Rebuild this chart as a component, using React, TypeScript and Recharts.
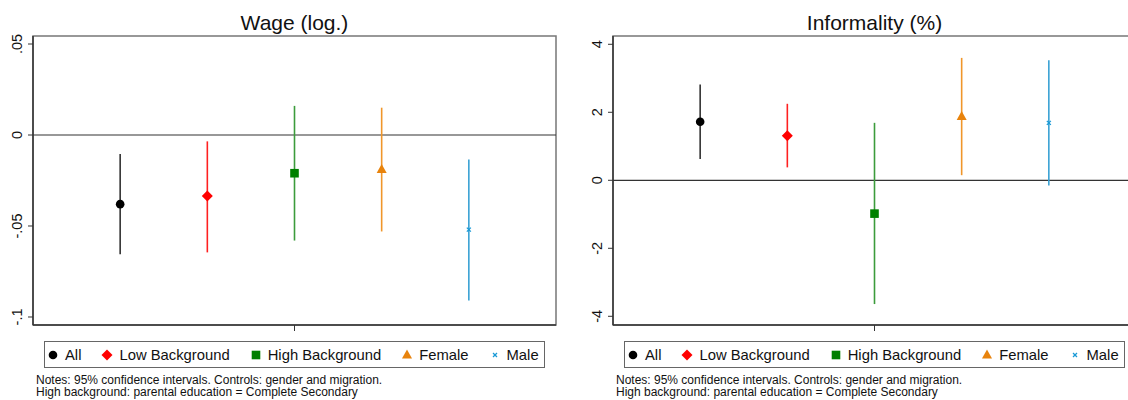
import React from "react";
import {
  ComposedChart,
  Scatter,
  ErrorBar,
  XAxis,
  YAxis,
  ReferenceLine,
  ReferenceArea,
} from "recharts";

// groups, in plotting order
const groups = ["All", "Low Background", "High Background", "Female", "Male"];
const groupX = [1, 2, 3, 4, 5];

// Wage (log.) estimates and 95% CI bounds
const wageEst = [-0.038, -0.0335, -0.021, -0.019, -0.052];
const wageLo = [-0.0655, -0.0645, -0.058, -0.053, -0.091];
const wageHi = [-0.0105, -0.0035, 0.016, 0.015, -0.0135];
const wageTicks = [-0.1, -0.05, 0, 0.05];

// Informality (%) estimates and 95% CI bounds
const infEst = [1.72, 1.31, -0.98, 1.88, 1.69];
const infLo = [0.63, 0.38, -3.64, 0.15, -0.15];
const infHi = [2.82, 2.25, 1.69, 3.6, 3.53];
const infTicks = [-4, -2, 0, 2, 4];

const notes = [
  "Notes: 95% confidence intervals. Controls: gender and migration.",
  "High background: parental education = Complete Secondary",
];

const markerColor = ["#000000", "#ff0000", "#008000", "#e8830c", "#1a9ad6"];
const lineColor = ["#333333", "#ff2020", "#3c9c3c", "#f0962a", "#3aa2d4"];
const markerKind = ["circle", "diamond", "square", "triangle", "x"];

const FONT = "'Liberation Sans', Arial, sans-serif";

function Marker({ kind, cx, cy, color }: any) {
  switch (kind) {
    case "circle":
      return <circle cx={cx} cy={cy} r={4.3} fill={color} />;
    case "diamond":
      return (
        <polygon
          points={`${cx},${cy - 5.5} ${cx + 5.5},${cy} ${cx},${cy + 5.5} ${cx - 5.5},${cy}`}
          fill={color}
        />
      );
    case "square":
      return <rect x={cx - 4.3} y={cy - 4.3} width={8.6} height={8.6} fill={color} />;
    case "triangle":
      return (
        <polygon
          points={`${cx},${cy - 5.5} ${cx + 5},${cy + 3.5} ${cx - 5},${cy + 3.5}`}
          fill={color}
        />
      );
    default:
      return (
        <g stroke={color} strokeWidth={1.3}>
          <line x1={cx - 2} y1={cy - 2} x2={cx + 2} y2={cy + 2} />
          <line x1={cx - 2} y1={cy + 2} x2={cx + 2} y2={cy - 2} />
        </g>
      );
  }
}

const fmtStata = (v: number) => {
  if (v === 0) return "0";
  const s = String(+v.toFixed(4));
  return s.replace(/^(-?)0\./, "$1.");
};

const YTick = ({ x, y, payload }: any) => (
  <g transform={`translate(${x},${y})`}>
    <text
      transform="rotate(-90)"
      textAnchor="middle"
      dy={-4}
      fontSize={14.5}
      fontFamily={FONT}
      fill="#111"
    >
      {fmtStata(payload.value)}
    </text>
  </g>
);

function Panel({
  title,
  est,
  lo,
  hi,
  ticks,
  domain,
  left,
}: {
  title: string;
  est: number[];
  lo: number[];
  hi: number[];
  ticks: number[];
  domain: [number, number];
  left: number;
}) {
  const W = 560;
  const plotLeft = 33;
  const plotW = W - plotLeft - 4;
  return (
    <div style={{ position: "absolute", left, top: 0, width: W, height: 400 }}>
      <div
        style={{
          position: "absolute",
          left: plotLeft,
          width: plotW,
          top: 12,
          textAlign: "center",
          fontSize: 21,
          lineHeight: "21px",
          color: "#111",
        }}
      >
        {title}
      </div>
      <ComposedChart
        width={W}
        height={400}
        margin={{ top: 36, right: 4, left: 0, bottom: 65 }}
      >
        <XAxis
          type="number"
          dataKey="x"
          domain={[0, 6]}
          ticks={[3]}
          tickFormatter={() => ""}
          height={10}
          tickSize={6}
          axisLine={{ stroke: "#333", strokeWidth: 1.5 }}
          tickLine={{ stroke: "#333" }}
          allowDataOverflow
        />
        <YAxis
          type="number"
          dataKey="y"
          domain={domain}
          ticks={ticks}
          width={33}
          tickSize={5}
          tickMargin={2}
          tick={<YTick />}
          axisLine={{ stroke: "#333", strokeWidth: 1.5 }}
          tickLine={{ stroke: "#333" }}
          allowDataOverflow
        />
        <ReferenceArea
          x1={0}
          x2={6}
          y1={domain[0]}
          y2={domain[1]}
          fill="none"
          stroke="#777"
          strokeWidth={1.5}
          ifOverflow="visible"
        />
        <ReferenceLine y={0} stroke="#333" strokeWidth={1.2} />
        {groups.map((g, i) => (
          <Scatter
            key={g}
            name={g}
            data={[{ x: groupX[i], y: est[i], err: [est[i] - lo[i], hi[i] - est[i]] }]}
            isAnimationActive={false}
            shape={(p: any) => (
              <Marker kind={markerKind[i]} cx={p.cx} cy={p.cy} color={markerColor[i]} />
            )}
          >
            <ErrorBar
              dataKey="err"
              direction="y"
              width={0}
              stroke={lineColor[i]}
              strokeWidth={1.6}
              isAnimationActive={false}
            />
          </Scatter>
        ))}
      </ComposedChart>
      <div
        style={{
          position: "absolute",
          left: 44,
          top: 341,
          width: 501,
          height: 27,
          boxSizing: "border-box",
          border: "1px solid #666",
          display: "flex",
          alignItems: "center",
          paddingLeft: 2,
          fontSize: 14.8,
          color: "#111",
          whiteSpace: "nowrap",
        }}
      >
        {groups.map((g, i) => (
          <div
            key={g}
            style={{ display: "flex", alignItems: "center", marginRight: i === 4 ? 0 : 20 }}
          >
            <svg width={12} height={14} style={{ marginRight: 6 }}>
              <Marker kind={markerKind[i]} cx={6} cy={7} color={markerColor[i]} />
            </svg>
            <span>{g}</span>
          </div>
        ))}
      </div>
      <div
        style={{
          position: "absolute",
          left: 36,
          top: 374,
          fontSize: 12,
          lineHeight: "12px",
          color: "#111",
          whiteSpace: "nowrap",
        }}
      >
        {notes.map((n) => (
          <div key={n}>{n}</div>
        ))}
      </div>
    </div>
  );
}

export default function App() {
  return (
    <div
      style={{
        position: "absolute",
        left: 0,
        top: 0,
        width: 1128,
        height: 400,
        overflow: "hidden",
        background: "#fff",
        fontFamily: FONT,
      }}
    >
      <Panel
        title="Wage (log.)"
        est={wageEst}
        lo={wageLo}
        hi={wageHi}
        ticks={wageTicks}
        domain={[-0.1044, 0.0544]}
        left={0}
      />
      <Panel
        title="Informality (%)"
        est={infEst}
        lo={infLo}
        hi={infHi}
        ticks={infTicks}
        domain={[-4.256, 4.244]}
        left={580}
      />
    </div>
  );
}
